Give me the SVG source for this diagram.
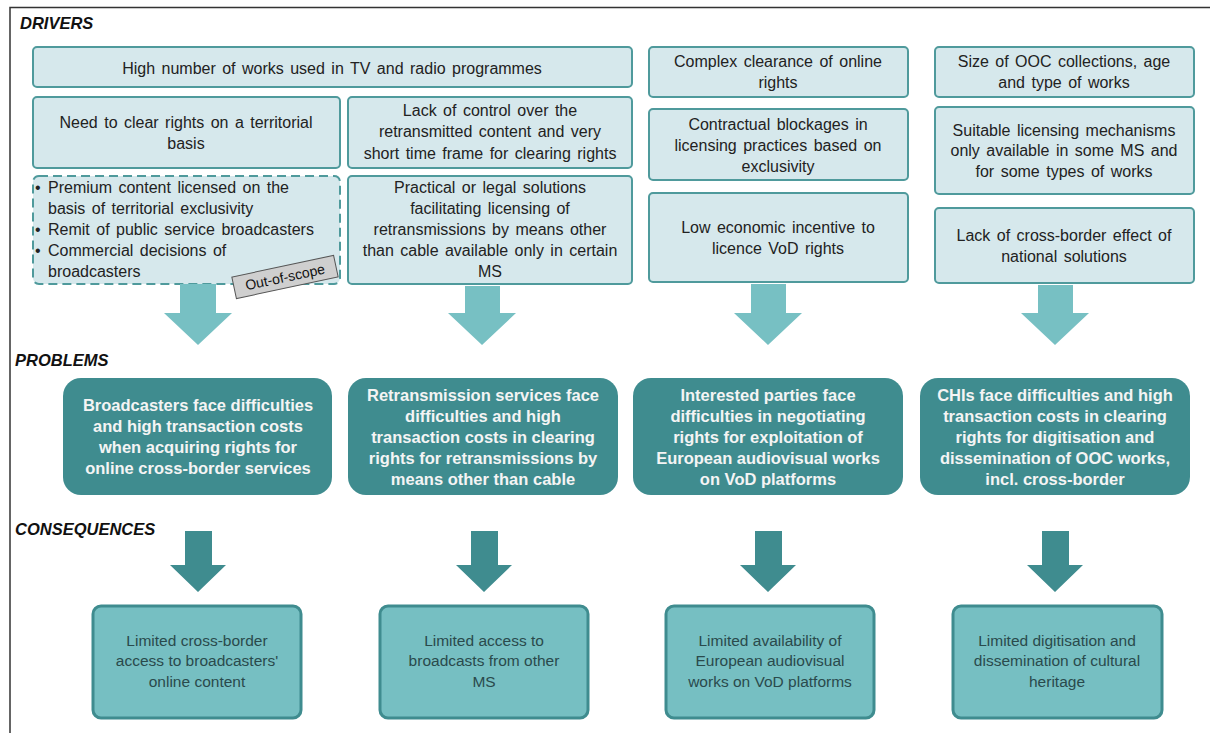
<svg xmlns="http://www.w3.org/2000/svg" width="1210" height="733" viewBox="0 0 1210 733">
<style>
.frame{stroke:#333;stroke-width:1.5;fill:none}
.hdr{font-family:"Liberation Sans",Arial,sans-serif;font-weight:bold;font-style:italic;font-size:16.5px;fill:#111}
.drv{fill:#d6e8ec;stroke:#4f9a9c;stroke-width:2}
.dash{fill:#d6e8ec;stroke:#4f9a9c;stroke-width:2;stroke-dasharray:9,5}
.dt{font-family:"Liberation Sans",Arial,sans-serif;font-size:16px;word-spacing:2px;fill:#222;text-anchor:middle}
.bt{font-family:"Liberation Sans",Arial,sans-serif;font-size:16px;word-spacing:2px;fill:#222}
.prob{fill:#3f8c8f}
.pt{font-family:"Liberation Sans",Arial,sans-serif;font-weight:bold;font-size:16.5px;fill:#f4f4f4;text-anchor:middle}
.con{fill:#76bfc2;stroke:#3f8c8f;stroke-width:3}
.ct{font-family:"Liberation Sans",Arial,sans-serif;font-size:15.5px;fill:#2a4a4c;text-anchor:middle}
.al{fill:#77c0c3}
.ad{fill:#3f8c8f}
.tag{fill:#cfcfcf;stroke:#555;stroke-width:1}
.tt{font-family:"Liberation Sans",Arial,sans-serif;font-size:14px;fill:#111;text-anchor:middle}
</style>
<rect width="1210" height="733" fill="#fff"/>
<path class="frame" d="M10,733 V7.5 H1210"/>
<text class="hdr" x="20" y="29">DRIVERS</text>
<text class="hdr" x="15" y="366">PROBLEMS</text>
<text class="hdr" x="15" y="535">CONSEQUENCES</text>

<g id="d1"><rect class="drv" x="33" y="47" width="599" height="40" rx="4"/>
<text class="dt" x="332" y="74">High number of works used in TV and radio programmes</text></g>
<g id="d2"><rect class="drv" x="33" y="97" width="307" height="71" rx="4"/>
<text class="dt" x="186" y="128">Need to clear rights on a territorial</text>
<text class="dt" x="186" y="149">basis</text></g>
<g id="d3"><rect class="dash" x="33" y="176" width="307" height="108" rx="6"/>
<text class="bt" x="35" y="193">•</text><text class="bt" x="48" y="193">Premium content licensed on the</text>
<text class="bt" x="48" y="214">basis of territorial exclusivity</text>
<text class="bt" x="35" y="235">•</text><text class="bt" x="48" y="235">Remit of public service broadcasters</text>
<text class="bt" x="35" y="256">•</text><text class="bt" x="48" y="256">Commercial decisions of</text>
<text class="bt" x="48" y="277">broadcasters</text></g>
<g id="oos" transform="translate(285,277) rotate(-12)"><rect class="tag" x="-52" y="-11" width="104" height="22"/>
<text class="tt" x="0" y="5">Out-of-scope</text></g>
<g id="d4"><rect class="drv" x="348" y="97" width="284" height="71" rx="4"/>
<text class="dt" x="490" y="116">Lack of control over the</text>
<text class="dt" x="490" y="137">retransmitted content and very</text>
<text class="dt" x="490" y="159">short time frame for clearing rights</text></g>
<g id="d5"><rect class="drv" x="348" y="176" width="284" height="108" rx="4"/>
<text class="dt" x="490" y="193">Practical or legal solutions</text>
<text class="dt" x="490" y="214">facilitating licensing of</text>
<text class="dt" x="490" y="235">retransmissions by means other</text>
<text class="dt" x="490" y="256">than cable available only in certain</text>
<text class="dt" x="490" y="277">MS</text></g>
<g id="d6"><rect class="drv" x="649" y="47" width="259" height="50" rx="4"/>
<text class="dt" x="778" y="67">Complex clearance of online</text>
<text class="dt" x="778" y="88">rights</text></g>
<g id="d7"><rect class="drv" x="649" y="109" width="259" height="71" rx="4"/>
<text class="dt" x="778" y="130">Contractual blockages in</text>
<text class="dt" x="778" y="151">licensing practices based on</text>
<text class="dt" x="778" y="172">exclusivity</text></g>
<g id="d8"><rect class="drv" x="649" y="193" width="259" height="89" rx="4"/>
<text class="dt" x="778" y="233">Low economic incentive to</text>
<text class="dt" x="778" y="254">licence VoD rights</text></g>
<g id="d9"><rect class="drv" x="935" y="47" width="259" height="50" rx="4"/>
<text class="dt" x="1064" y="67">Size of OOC collections, age</text>
<text class="dt" x="1064" y="88">and type of works</text></g>
<g id="d10"><rect class="drv" x="935" y="107" width="259" height="87" rx="4"/>
<text class="dt" x="1064" y="136">Suitable licensing mechanisms</text>
<text class="dt" x="1064" y="156">only available in some MS and</text>
<text class="dt" x="1064" y="177">for some types of works</text></g>
<g id="d11"><rect class="drv" x="935" y="208" width="259" height="75" rx="4"/>
<text class="dt" x="1064" y="241">Lack of cross-border effect of</text>
<text class="dt" x="1064" y="262">national solutions</text></g>

<g id="connectors">
<path class="al" d="M180,284 H216 V313 H232 L198,345 L164,313 H180 Z"/>
<path class="al" d="M465,286 H500 V313 H516 L482,345 L448,313 H465 Z"/>
<path class="al" d="M751,284 H786 V313 H802 L768,345 L734,313 H751 Z"/>
<path class="al" d="M1038,285 H1073 V313 H1089 L1055,345 L1021,313 H1038 Z"/>
<path class="ad" d="M185,531 H212 V565 H226 L198,592 L170,565 H185 Z"/>
<path class="ad" d="M471,531 H498 V565 H512 L484,592 L456,565 H471 Z"/>
<path class="ad" d="M755,531 H782 V565 H796 L768,592 L740,565 H755 Z"/>
<path class="ad" d="M1042,531 H1069 V565 H1083 L1055,592 L1027,565 H1042 Z"/>
</g>

<g id="p1"><rect class="prob" x="63" y="378" width="269" height="117" rx="18"/>
<text class="pt" x="198" y="411">Broadcasters face difficulties</text>
<text class="pt" x="198" y="432">and high transaction costs</text>
<text class="pt" x="198" y="453">when acquiring rights for</text>
<text class="pt" x="198" y="474">online cross-border services</text></g>
<g id="p2"><rect class="prob" x="348" y="378" width="270" height="117" rx="18"/>
<text class="pt" x="483" y="401">Retransmission services face</text>
<text class="pt" x="483" y="422">difficulties and high</text>
<text class="pt" x="483" y="443">transaction costs in clearing</text>
<text class="pt" x="483" y="464">rights for retransmissions by</text>
<text class="pt" x="483" y="485">means other than cable</text></g>
<g id="p3"><rect class="prob" x="633" y="378" width="270" height="117" rx="18"/>
<text class="pt" x="768" y="401">Interested parties face</text>
<text class="pt" x="768" y="422">difficulties in negotiating</text>
<text class="pt" x="768" y="443">rights for exploitation of</text>
<text class="pt" x="768" y="464">European audiovisual works</text>
<text class="pt" x="768" y="485">on VoD platforms</text></g>
<g id="p4"><rect class="prob" x="920" y="378" width="270" height="117" rx="18"/>
<text class="pt" x="1055" y="401">CHIs face difficulties and high</text>
<text class="pt" x="1055" y="422">transaction costs in clearing</text>
<text class="pt" x="1055" y="443">rights for digitisation and</text>
<text class="pt" x="1055" y="464">dissemination of OOC works,</text>
<text class="pt" x="1055" y="485">incl. cross-border</text></g>

<g id="c1"><rect class="con" x="93" y="606" width="208" height="112" rx="8"/>
<text class="ct" x="197" y="646">Limited cross-border</text>
<text class="ct" x="197" y="666">access to broadcasters'</text>
<text class="ct" x="197" y="687">online content</text></g>
<g id="c2"><rect class="con" x="380" y="606" width="208" height="112" rx="8"/>
<text class="ct" x="484" y="646">Limited access to</text>
<text class="ct" x="484" y="666">broadcasts from other</text>
<text class="ct" x="484" y="687">MS</text></g>
<g id="c3"><rect class="con" x="666" y="606" width="208" height="112" rx="8"/>
<text class="ct" x="770" y="646">Limited availability of</text>
<text class="ct" x="770" y="666">European audiovisual</text>
<text class="ct" x="770" y="687">works on VoD platforms</text></g>
<g id="c4"><rect class="con" x="953" y="606" width="209" height="112" rx="8"/>
<text class="ct" x="1057" y="646">Limited digitisation and</text>
<text class="ct" x="1057" y="666">dissemination of cultural</text>
<text class="ct" x="1057" y="687">heritage</text></g>
</svg>
